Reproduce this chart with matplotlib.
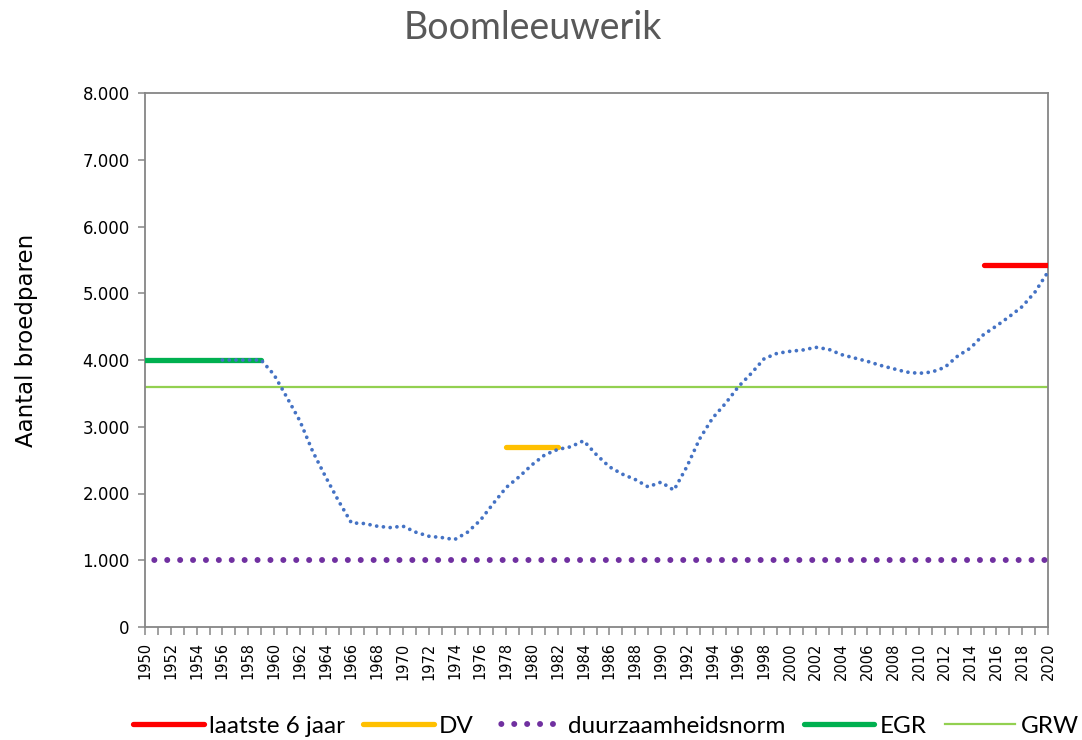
import matplotlib
matplotlib.use('Agg')
import matplotlib.pyplot as plt
from matplotlib.ticker import FuncFormatter

# ---- data ----
trend_years = list(range(1956, 2021))
trend_values = [4000, 4000, 4000, 4000, 3780, 3440, 3090, 2630, 2250, 1890,
                1560, 1550, 1510, 1490, 1510, 1420, 1360, 1340, 1310, 1420,
                1600, 1850, 2090, 2250, 2430, 2580, 2660, 2700, 2790, 2580,
                2400, 2290, 2210, 2100, 2170, 2050, 2400, 2820, 3130, 3350,
                3600, 3800, 4020, 4100, 4130, 4150, 4190, 4160, 4080, 4030,
                3980, 3920, 3870, 3820, 3800, 3820, 3890, 4060, 4180, 4380,
                4510, 4650, 4800, 5020, 5320]

last6_years = [2015, 2020]
last6_values = [5420, 5420]
dv_years = [1978, 1982]
dv_values = [2700, 2700]
norm_years = [1950, 2020]
norm_values = [1000, 1000]
egr_years = [1950, 1959]
egr_values = [4000, 4000]
grw_years = [1950, 2020]
grw_values = [3600, 3600]

legend_labels = ['laatste 6 jaar', 'DV', 'duurzaamheidsnorm', 'EGR', 'GRW']
title = 'Boomleeuwerik'
ylabel = 'Aantal broedparen'

# ---- figure ----
fig = plt.figure(figsize=(10.82, 7.40), dpi=100)
ax = fig.add_axes([145 / 1082, 1 - 627 / 740, (1048 - 145) / 1082, (627 - 93) / 740])

l_red, = ax.plot(last6_years, last6_values, color='#FF0000', lw=3.8,
                 solid_capstyle='round', zorder=4, label=legend_labels[0])
l_dv, = ax.plot(dv_years, dv_values, color='#FFC000', lw=3.8,
                solid_capstyle='round', zorder=3, label=legend_labels[1])
l_norm, = ax.plot(norm_years, norm_values, color='#7030A0', lw=4.3,
                  linestyle=(0.6, (0.01, 2.15)), dash_capstyle='round',
                  zorder=3, label=legend_labels[2])
l_egr, = ax.plot(egr_years, egr_values, color='#00B050', lw=3.8,
                 solid_capstyle='round', zorder=3, label=legend_labels[3])
l_grw, = ax.plot(grw_years, grw_values, color='#92D050', lw=1.6,
                 zorder=2, label=legend_labels[4])
ax.plot(trend_years, trend_values, color='#4472C4', lw=2.7,
        linestyle=(0, (0.01, 1.8)), dash_capstyle='round', zorder=5)

ax.set_xlim(1950, 2020)
ax.set_ylim(0, 8000)
ax.set_yticks(range(0, 8001, 1000))
ax.yaxis.set_major_formatter(FuncFormatter(lambda v, p: '0' if v == 0 else f'{int(v):,}'.replace(',', '.')))
ax.set_xticks(range(1950, 2021, 2))
ax.set_xticks(range(1950, 2021, 1), minor=True)
ax.set_xticklabels([str(y) for y in range(1950, 2021, 2)], rotation=90)

for s in ax.spines.values():
    s.set_color('#868686')
    s.set_linewidth(1.3)
ax.tick_params(axis='both', which='both', direction='out', length=5,
               color='#868686', width=1.1)
ax.tick_params(axis='x', which='both', length=6)
ax.tick_params(axis='y', labelsize=12, pad=6)
ax.tick_params(axis='x', labelsize=10.5, pad=5)

ax.set_ylabel(ylabel, fontsize=16.5)
ax.yaxis.set_label_coords((38 - 145) / 903, (627 - 340) / 534)
fig.text(533 / 1082, 1 - 28 / 740, title, fontsize=27, color='#595959',
         ha='center', va='center', family=['Lato', 'DejaVu Sans'])

fig.legend(handles=[l_red, l_dv, l_norm, l_egr, l_grw], labels=legend_labels,
           loc='center', bbox_to_anchor=(606 / 1082, 1 - 726 / 740), ncol=5,
           frameon=False, handlelength=2.9, handletextpad=0.22,
           columnspacing=0.75, prop={'family': ['Lato', 'DejaVu Sans'], 'size': 17.5})

fig.savefig('out.png', dpi=100)
